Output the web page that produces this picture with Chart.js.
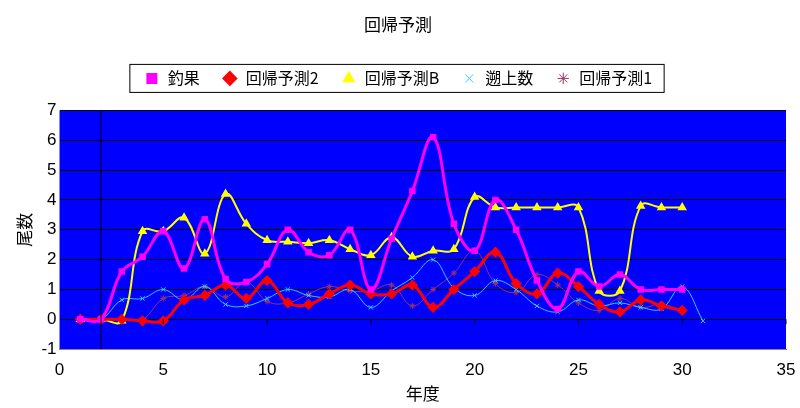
<!DOCTYPE html>
<html><head><meta charset="utf-8">
<script src="https://cdn.jsdelivr.net/npm/chart.js@4"></script>
<style>body{margin:0;background:#fff}#w{width:800px;height:408px}</style>
</head><body><div id="w"><canvas id="c"></canvas></div>
<script>
const years = [1,2,3,4,5,6,7,8,9,10,11,12,13,14,15,16,17,18,19,20,21,22,23,24,25,26,27,28,29,30,31];
const chouka = [0,0,1.6,2.1,2.95,1.7,3.35,1.35,1.25,1.85,3.0,2.25,2.15,3.0,1.0,2.7,4.3,6.1,3.2,2.3,4.0,3.0,1.3,0.35,1.6,1.1,1.5,1.0,1.0,1.0];
const yosoku2 = [0,0,0,-0.05,-0.05,0.65,0.8,1.15,0.7,1.3,0.55,0.5,0.85,1.15,0.85,0.85,1.15,0.4,1.0,1.6,2.25,1.2,0.85,1.55,1.1,0.5,0.25,0.65,0.45,0.3];
const yosokuB = [0,0,-0.05,2.95,2.95,3.4,2.2,4.2,3.2,2.65,2.6,2.55,2.65,2.35,2.15,2.75,2.1,2.3,2.35,4.1,3.75,3.75,3.75,3.75,3.75,0.95,0.95,3.8,3.75,3.75];
const sojo = [0,0,0.65,0.7,1.0,0.65,1.1,0.5,0.45,0.7,1.0,0.8,0.75,1.0,0.4,0.95,1.4,2.0,1.05,0.8,1.3,1.0,0.45,0.25,0.65,0.45,0.55,0.4,0.35,1.1,-0.05];
const yosoku1 = [0,0,0,0,0.7,0.8,1.1,0.75,1.25,0.6,0.55,0.85,1.1,0.95,0.95,1.15,0.45,1.0,1.55,2.3,1.2,0.9,1.5,1.15,0.55,0.3,0.7,0.4,0.5,0.3];
const pts = a => a.map((v,i)=>({x:years[i],y:v}));
const ds = (label,data,color,w,ps,r) => ({label,data:pts(data),borderColor:color,backgroundColor:color,borderWidth:w,pointStyle:ps,pointRadius:r,showLine:true,tension:0.4});
const bg = {id:'bg',
 beforeInit(c){const f=c.legend.fit;c.legend.fit=function(){f.bind(c.legend)();this.height+=14;};},
 beforeDraw(c){const {ctx,chartArea:a}=c;ctx.save();ctx.fillStyle='#0000ff';ctx.fillRect(a.left,a.top,a.right-a.left,a.bottom-a.top);ctx.restore();},
 afterDraw(c){const {ctx}=c;const x=c.scales.x,y=c.scales.y;ctx.save();ctx.strokeStyle='#000';ctx.lineWidth=1;
  const xp=x.getPixelForValue(2);ctx.beginPath();ctx.moveTo(xp,y.top);ctx.lineTo(xp,y.bottom);ctx.stroke();
  const y0=y.getPixelForValue(0);for(let v=5;v<=35;v+=5){const p=x.getPixelForValue(v);ctx.beginPath();ctx.moveTo(p,y0);ctx.lineTo(p,y0+5);ctx.stroke();}
  const h=c.legend.legendHitBoxes;const l0=h[0],l1=h[h.length-1];
  ctx.strokeRect(l0.left-14,l0.top-6,l1.left+l1.width-l0.left+26,l0.height+12);ctx.restore();}};
new Chart(document.getElementById('c'),{type:'scatter',
 data:{datasets:[ds('釣果',chouka,'#ff00ff',3,'rect',2.5),ds('回帰予測2',yosoku2,'#ff0000',3,'rectRot',3.5),ds('回帰予測B',yosokuB,'#ffff00',2,'triangle',3.5),ds('遡上数',sojo,'#33ccff',1,'crossRot',3),ds('回帰予測1',yosoku1,'#993366',1,'star',3)]},
 options:{responsive:true,maintainAspectRatio:false,animation:false,
  layout:{padding:{left:10,right:14,top:4,bottom:4}},
  plugins:{title:{display:true,text:'回帰予測',color:'#000',font:{family:'Noto Sans CJK JP',size:17,weight:'normal'},padding:{top:10,bottom:14}},
   legend:{position:'top',labels:{color:'#000',usePointStyle:true,font:{family:'Noto Sans CJK JP',size:16},padding:22,boxHeight:8}},tooltip:{enabled:false}},
  scales:{x:{type:'linear',min:0,max:35,ticks:{stepSize:5,color:'#000',font:{family:'Liberation Sans',size:17}},grid:{display:false},border:{color:'#888'},
    title:{display:true,text:'年度',color:'#000',font:{family:'Noto Sans CJK JP',size:17},padding:0}},
   y:{min:-1,max:7,ticks:{stepSize:1,color:'#000',font:{family:'Liberation Sans',size:17}},grid:{color:'#000',drawTicks:false},border:{display:false},
    title:{display:true,text:'尾数',color:'#000',font:{family:'Noto Sans CJK JP',size:17}}}}},
 plugins:[bg]});
</script></body></html>
